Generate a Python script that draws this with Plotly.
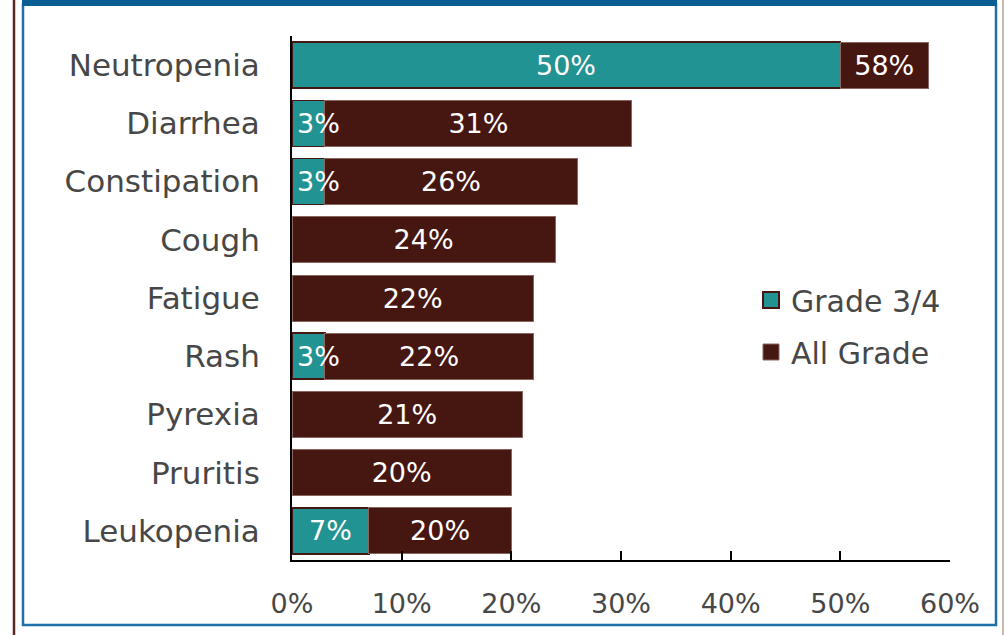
import plotly.graph_objects as go

categories = ["Neutropenia", "Diarrhea", "Constipation", "Cough", "Fatigue",
              "Rash", "Pyrexia", "Pruritis", "Leukopenia"]
grade34 = [50, 3, 3, 0, 0, 3, 0, 0, 7]
all_grade = [58, 31, 26, 24, 22, 22, 21, 20, 20]
x_ticks = [0, 10, 20, 30, 40, 50, 60]

TEAL = "#219392"
BROWN = "#461611"
FONT = "DejaVu Sans"
GRAY = "#474747"
W, H = 1005, 635
L, R, T, B = 292, 55, 36, 75
PW, PH = W - L - R, H - T - B


def px_x(px):
    return (px - L) / PW


def px_y(py):
    return (H - B - py) / PH


remainder = [a - g for a, g in zip(all_grade, grade34)]

fig = go.Figure()
fig.add_trace(go.Bar(
    y=categories, x=grade34, orientation="h", name="Grade 3/4",
    marker=dict(color=TEAL, line=dict(color=BROWN, width=1.5)),
    showlegend=False,
))
fig.add_trace(go.Bar(
    y=categories, x=remainder, orientation="h", name="All Grade",
    marker=dict(color=BROWN, line=dict(color="#8a6660", width=1)),
    text=[f"{v}%" for v in all_grade],
    textposition="inside", insidetextanchor="middle", constraintext="none",
    textangle=0,
    textfont=dict(color="white", size=27, family=FONT),
    showlegend=False,
))
# legend entries
fig.add_trace(go.Scatter(
    x=[None], y=[None], mode="markers", name="Grade 3/4", legendgroup="a",
    marker=dict(symbol="square", size=17, color=TEAL, line=dict(color=BROWN, width=2)),
))
fig.add_trace(go.Scatter(
    x=[None], y=[None], mode="markers", name="All Grade", legendgroup="b",
    marker=dict(symbol="square", size=17, color=BROWN, line=dict(color="#8a6660", width=1)),
))

# Grade 3/4 labels: centred in the bar when wide enough, else left-anchored at start
annotations = []
for cat, g in zip(categories, grade34):
    if not g:
        continue
    wide = g >= 6
    annotations.append(dict(
        x=g / 2 if wide else 0, y=cat, xref="x", yref="y",
        text=f"{g}%", showarrow=False,
        xanchor="center" if wide else "left", xshift=0 if wide else 3,
        font=dict(color="white", size=27, family=FONT),
    ))

shapes = [
    dict(type="rect", xref="paper", yref="paper",
         x0=px_x(23), x1=px_x(996), y0=px_y(625), y1=px_y(4),
         line=dict(color="#1F6FA8", width=2.5), fillcolor="rgba(0,0,0,0)", layer="below"),
    dict(type="rect", xref="paper", yref="paper",
         x0=px_x(22), x1=px_x(997), y0=px_y(6), y1=px_y(-2),
         line=dict(width=0), fillcolor="#0A5E94"),
    dict(type="line", xref="paper", yref="paper",
         x0=px_x(14), x1=px_x(14), y0=px_y(-2), y1=px_y(640),
         line=dict(color="#5A2A22", width=2.5)),
    dict(type="line", xref="paper", yref="paper",
         x0=px_x(1003), x1=px_x(1003), y0=px_y(-2), y1=px_y(640),
         line=dict(color="#C9B8B4", width=2)),
]

fig.update_layout(
    width=W, height=H,
    margin=dict(l=L, r=R, t=T, b=B, pad=0),
    barmode="stack", bargap=0.21,
    plot_bgcolor="white", paper_bgcolor="white",
    font=dict(family=FONT, size=30, color=GRAY),
    shapes=shapes, annotations=annotations,
    legend=dict(x=px_x(751), y=px_y(274), xanchor="left", yanchor="top",
                bgcolor="rgba(0,0,0,0)", font=dict(size=30, color=GRAY),
                tracegroupgap=10, itemsizing="trace", itemwidth=30),
    showlegend=True,
)
fig.update_xaxes(
    range=[0, 60], tickvals=x_ticks, ticktext=[f"{v}%" for v in x_ticks],
    showgrid=False, zeroline=False, showline=True, linecolor="black", linewidth=2,
    ticks="inside", ticklen=9, tickwidth=2, tickcolor="black",
    ticklabelstandoff=19, tickfont=dict(size=27, color=GRAY),
)
fig.update_yaxes(
    autorange="reversed", showgrid=False, zeroline=False,
    showline=True, linecolor="black", linewidth=2, ticks="",
    ticklabelstandoff=24, tickfont=dict(size=31, color=GRAY),
)

fig.write_html("out.html")
